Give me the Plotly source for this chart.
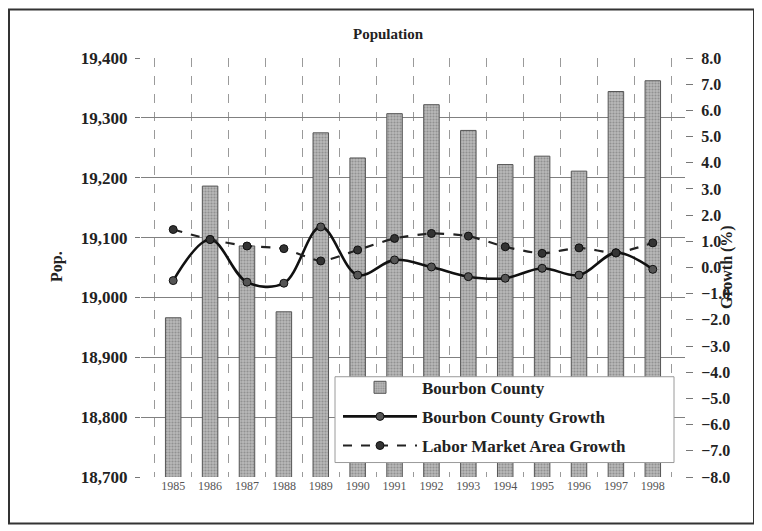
import plotly.graph_objects as go

years = ["1985", "1986", "1987", "1988", "1989", "1990", "1991",
         "1992", "1993", "1994", "1995", "1996", "1997", "1998"]
population = [18966, 19186, 19086, 18976, 19275, 19233, 19307,
              19322, 19279, 19222, 19236, 19211, 19344, 19362]
county_growth = [-0.50, 1.07, -0.56, -0.60, 1.55, -0.29, 0.29,
                 0.02, -0.35, -0.41, -0.03, -0.29, 0.56, -0.07]
lma_growth = [1.45, 1.07, 0.82, 0.72, 0.25, 0.67, 1.11,
              1.30, 1.20, 0.79, 0.54, 0.75, 0.56, 0.94]
left_ticks = [18700, 18800, 18900, 19000, 19100, 19200, 19300, 19400]
right_ticks = [-8, -7, -6, -5, -4, -3, -2, -1, 0, 1, 2, 3, 4, 5, 6, 7, 8]

SERIF = "Liberation Serif, Times New Roman, serif"

W, H = 754, 523
ML, MR, MT, MB = 133, 77, 49.5, 53.5
PW = W - ML - MR
PH = H - MT - MB


def px_x(x):
    return (x - ML) / PW


def px_y(y):
    return (H - MB - y) / PH


fig = go.Figure()
fig.add_trace(go.Bar(
    x=years, y=population, name="Bourbon County",
    marker=dict(color="#a8a8a8", line=dict(color="#555555", width=1),
                pattern=dict(shape=".", fgcolor="#6a6a6a", bgcolor="#b8b8b8",
                             size=3, solidity=0.4)),
    legendgroup="a", yaxis="y",
))
fig.add_trace(go.Scatter(
    x=years, y=county_growth, name="Bourbon County Growth",
    mode="lines+markers", yaxis="y2", legendgroup="b",
    line=dict(color="#111111", width=2.6, shape="spline", smoothing=1.0),
    marker=dict(symbol="circle", size=8, color="#555555",
                line=dict(color="#111111", width=1)),
))
fig.add_trace(go.Scatter(
    x=years, y=lma_growth, name="Labor Market Area Growth",
    mode="lines+markers", yaxis="y2", legendgroup="c",
    line=dict(color="#222222", width=2.2, dash="dash", shape="spline", smoothing=0.6),
    marker=dict(symbol="circle", size=8, color="#333333",
                line=dict(color="#111111", width=1)),
))

fig.update_layout(
    width=W, height=H,
    margin=dict(l=ML, r=MR, t=MT, b=MB, autoexpand=False),
    paper_bgcolor="white", plot_bgcolor="white",
    font=dict(family=SERIF, color="#222222"),
    bargap=0.58,
    showlegend=True,
    legend=dict(
        x=px_x(330), y=px_y(362), xanchor="left", yanchor="top",
        bgcolor="rgba(0,0,0,0)", borderwidth=0,
        font=dict(family=SERIF, size=17, color="#222222", weight="bold"),
        traceorder="grouped", tracegroupgap=4, itemwidth=74,
    ),
    xaxis=dict(
        type="category", tickson="boundaries",
        showgrid=True, gridcolor="#9a9a9a", gridwidth=1, griddash="dash",
        ticks="", showline=False,
        tickfont=dict(family=SERIF, size=12, color="#555555"),
    ),
    yaxis=dict(
        range=[18700, 19400], tickvals=left_ticks, tickformat=",d",
        showgrid=True, gridcolor="#808080", gridwidth=1,
        ticks="outside", ticklen=5, tickcolor="#777777", ticklabelstandoff=4,
        showline=False, zeroline=False,
        tickfont=dict(family=SERIF, size=17, color="#222222", weight="bold"),
    ),
    yaxis2=dict(
        range=[-8, 8], tickvals=right_ticks, tickformat=".1f",
        overlaying="y", side="right", showgrid=False, zeroline=False,
        ticks="outside", ticklen=7, tickcolor="#777777", ticklabelstandoff=5,
        showline=False,
        tickfont=dict(family=SERIF, size=16, color="#222222", weight="bold"),
    ),
    annotations=[
        dict(text="<b>Population</b>", xref="paper", yref="paper",
             x=px_x(380), y=px_y(25), xanchor="center", yanchor="middle",
             showarrow=False, font=dict(family=SERIF, size=15, color="#222222")),
        dict(text="<b>Pop.</b>", xref="paper", yref="paper",
             x=px_x(49), y=px_y(259), xanchor="center", yanchor="middle",
             textangle=-90, showarrow=False,
             font=dict(family=SERIF, size=16, color="#222222")),
        dict(text="<b>Growth (%)</b>", xref="paper", yref="paper",
             x=px_x(719), y=px_y(259), xanchor="center", yanchor="middle",
             textangle=-90, showarrow=False,
             font=dict(family=SERIF, size=16, color="#222222")),
    ],
    shapes=[
        dict(type="rect", xref="paper", yref="paper",
             x0=px_x(1), x1=px_x(746), y0=px_y(516), y1=px_y(1),
             line=dict(color="#333333", width=2), fillcolor="rgba(0,0,0,0)",
             layer="below"),
        dict(type="rect", xref="paper", yref="paper",
             x0=px_x(327), x1=px_x(666), y0=px_y(455), y1=px_y(369),
             line=dict(color="#9a9a9a", width=1), fillcolor="white",
             layer="above"),
    ],
)

fig.write_html("out.html")
